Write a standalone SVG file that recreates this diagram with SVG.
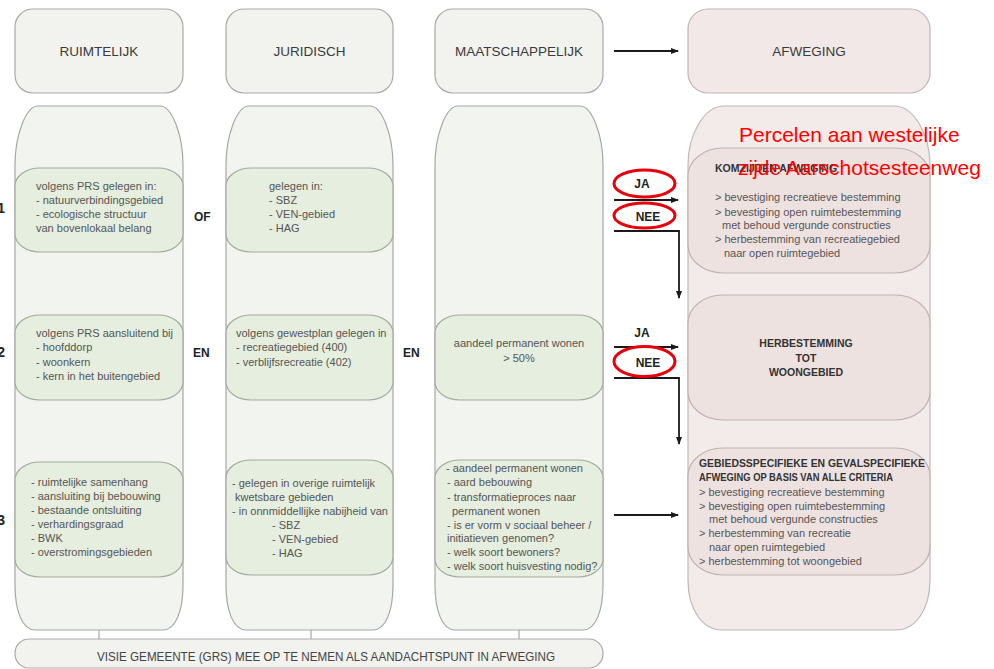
<svg xmlns="http://www.w3.org/2000/svg" width="994" height="669" viewBox="0 0 994 669">
<style>
.hdr{fill:#f2f3ef;stroke:#a9aaa6;stroke-width:1.2}
.hdrp{fill:#f2e8e7;stroke:#bfb5b4;stroke-width:1.2}
.col{fill:#f2f4ef;stroke:#a6a8a3;stroke-width:1.2}
.colp{fill:#f3eaea;stroke:#c2b8b7;stroke-width:1.2}
.gbox{fill:#e5eedf;stroke:#a3aa9e;stroke-width:1.2}
.pbox{fill:#eee2e1;stroke:#bfb3b2;stroke-width:1.2}
text{font-family:"Liberation Sans",Arial,sans-serif}
.t{font-size:11px;fill:#555}
.h{font-size:13.5px;fill:#3a3a3a}
.b{font-size:12px;font-weight:bold;fill:#222}
.pt{font-size:10.5px;font-weight:bold;fill:#333}
.num{font-size:14px;font-weight:bold;fill:#222}
.red{font-size:21px;fill:#ff0000}
.ell{fill:none;stroke:#e8000b;stroke-width:3}
.conn{stroke:#1a1a1a;stroke-width:1.8;fill:none}
.tie{stroke:#a6a8a3;stroke-width:1.2;fill:none}
.ban{font-size:13px;fill:#444}
</style>
<defs>
<marker id="ah" markerWidth="8" markerHeight="8" refX="7" refY="4" orient="auto" markerUnits="userSpaceOnUse">
<path d="M0,1 L8,4 L0,7 Z" fill="#1a1a1a"/>
</marker>
</defs>

<g id="headers">
<g id="h-ruimtelijk"><rect class="hdr" x="15" y="9" width="168" height="84" rx="18"/><text class="h" x="99" y="56" text-anchor="middle">RUIMTELIJK</text></g>
<g id="h-juridisch"><rect class="hdr" x="226" y="9" width="167" height="84" rx="18"/><text class="h" x="309.5" y="56" text-anchor="middle">JURIDISCH</text></g>
<g id="h-maatschappelijk"><rect class="hdr" x="435" y="9" width="168" height="84" rx="18"/><text class="h" x="519" y="56" text-anchor="middle">MAATSCHAPPELIJK</text></g>
<g id="h-afweging"><rect class="hdrp" x="688" y="9" width="242" height="84" rx="20"/><text class="h" x="809" y="56" text-anchor="middle">AFWEGING</text></g>
</g>

<g id="columns">
<path id="col-ruimtelijk" class="col" d="M38,106 H160 C172,106 183,135 183,165 V585 C183,610 176,630 163,630 H35 C22,630 15,610 15,585 V165 C15,135 26,106 38,106 Z"/>
<path id="col-juridisch" class="col" d="M249,106 H370 C382,106 393,135 393,165 V585 C393,610 386,630 373,630 H246 C233,630 226,610 226,585 V165 C226,135 237,106 249,106 Z"/>
<path id="col-maatschappelijk" class="col" d="M458,106 H580 C592,106 603,135 603,165 V585 C603,610 596,630 583,630 H455 C442,630 435,610 435,585 V165 C435,135 446,106 458,106 Z"/>
<path id="col-afweging" class="colp" d="M724,106 H894 C914,106 930,135 930,165 V580 C930,610 915,630 896,630 H722 C703,630 688,610 688,580 V165 C688,135 704,106 724,106 Z"/>
</g>

<g id="row-numbers">
<text class="num" x="5" y="213" text-anchor="end">1</text>
<text class="num" x="5" y="357" text-anchor="end">2</text>
<text class="num" x="5" y="525" text-anchor="end">3</text>
</g>

<g id="r1-ruimtelijk">
<rect class="gbox" x="15" y="168" width="168" height="84" rx="25" ry="18"/>
<text class="t" x="36" y="190">volgens PRS gelegen in:</text>
<text class="t" x="36" y="204">- natuurverbindingsgebied</text>
<text class="t" x="36" y="218">- ecologische structuur</text>
<text class="t" x="36" y="232">van bovenlokaal belang</text>
</g>
<g id="r1-juridisch">
<rect class="gbox" x="226" y="168" width="167" height="84" rx="25" ry="18"/>
<text class="t" x="269" y="190">gelegen in:</text>
<text class="t" x="269" y="204">- SBZ</text>
<text class="t" x="269" y="218">- VEN-gebied</text>
<text class="t" x="269" y="232">- HAG</text>
</g>
<text class="b" x="194" y="221">OF</text>

<g id="r2-ruimtelijk">
<rect class="gbox" x="15" y="315" width="168" height="85" rx="25" ry="18"/>
<text class="t" x="36" y="337">volgens PRS aansluitend bij</text>
<text class="t" x="36" y="351">- hoofddorp</text>
<text class="t" x="36" y="366">- woonkern</text>
<text class="t" x="36" y="380">- kern in het buitengebied</text>
</g>
<g id="r2-juridisch">
<rect class="gbox" x="226" y="315" width="167" height="85" rx="25" ry="18"/>
<text class="t" x="236" y="337">volgens gewestplan gelegen in</text>
<text class="t" x="236" y="351">- recreatiegebied (400)</text>
<text class="t" x="236" y="366">- verblijfsrecreatie (402)</text>
</g>
<g id="r2-maatschappelijk">
<rect class="gbox" x="435" y="315" width="168" height="85" rx="25" ry="18"/>
<text class="t" x="519" y="347" text-anchor="middle">aandeel permanent wonen</text>
<text class="t" x="519" y="362" text-anchor="middle">&gt; 50%</text>
</g>
<text class="b" x="193" y="357">EN</text>
<text class="b" x="403" y="357">EN</text>

<g id="r3-ruimtelijk">
<rect class="gbox" x="15" y="462" width="168" height="115" rx="25" ry="18"/>
<text class="t" x="31" y="486">- ruimtelijke samenhang</text>
<text class="t" x="31" y="500">- aansluiting bij bebouwing</text>
<text class="t" x="31" y="514">- bestaande ontsluiting</text>
<text class="t" x="31" y="528">- verhardingsgraad</text>
<text class="t" x="31" y="542">- BWK</text>
<text class="t" x="31" y="556">- overstromingsgebieden</text>
</g>
<g id="r3-juridisch">
<rect class="gbox" x="226" y="460" width="167" height="115" rx="25" ry="18"/>
<text class="t" x="232" y="487">- gelegen in overige ruimtelijk</text>
<text class="t" x="235" y="501">kwetsbare gebieden</text>
<text class="t" x="232" y="515">- in onnmiddellijke nabijheid van</text>
<text class="t" x="272" y="529">- SBZ</text>
<text class="t" x="272" y="543">- VEN-gebied</text>
<text class="t" x="272" y="557">- HAG</text>
</g>
<g id="r3-maatschappelijk">
<rect class="gbox" x="435" y="460" width="168" height="117" rx="25" ry="18"/>
<text class="t" x="446" y="472">- aandeel permanent wonen</text>
<text class="t" x="447" y="486">- aard bebouwing</text>
<text class="t" x="447" y="501">- transformatieproces naar</text>
<text class="t" x="452" y="515">permanent wonen</text>
<text class="t" x="447" y="529">- is er vorm v sociaal beheer /</text>
<text class="t" x="447" y="542">initiatieven genomen?</text>
<text class="t" x="447" y="556">- welk soort bewoners?</text>
<text class="t" x="447" y="570">- welk soort huisvesting nodig?</text>
</g>

<g id="a1-afweging">
<rect class="pbox" x="688" y="148" width="242" height="125" rx="35" ry="28"/>
<text class="pt" x="715" y="172">KOMZIJDEN AFWEGING</text>
<text class="t" x="715" y="201">&gt; bevestiging recreatieve bestemming</text>
<text class="t" x="715" y="216">&gt; bevestiging open ruimtebestemming</text>
<text class="t" x="722" y="229">met behoud vergunde constructies</text>
<text class="t" x="715" y="243">&gt; herbestemming van recreatiegebied</text>
<text class="t" x="724" y="257">naar open ruimtegebied</text>
</g>
<g id="a2-afweging">
<rect class="pbox" x="688" y="295" width="242" height="125" rx="35" ry="28"/>
<text class="pt" x="806" y="347" text-anchor="middle">HERBESTEMMING</text>
<text class="pt" x="806" y="362" text-anchor="middle">TOT</text>
<text class="pt" x="806" y="376" text-anchor="middle">WOONGEBIED</text>
</g>
<g id="a3-afweging">
<rect class="pbox" x="688" y="448" width="242" height="127" rx="35" ry="28"/>
<text class="pt" x="699" y="467" textLength="226" lengthAdjust="spacingAndGlyphs">GEBIEDSSPECIFIEKE EN GEVALSPECIFIEKE</text>
<text class="pt" x="699" y="481" textLength="194" lengthAdjust="spacingAndGlyphs">AFWEGING OP BASIS VAN ALLE CRITERIA</text>
<text class="t" x="699" y="496">&gt; bevestiging recreatieve bestemming</text>
<text class="t" x="699" y="510">&gt; bevestiging open ruimtebestemming</text>
<text class="t" x="709" y="523">met behoud vergunde constructies</text>
<text class="t" x="699" y="537">&gt; herbestemming van recreatie</text>
<text class="t" x="709" y="551">naar open ruimtegebied</text>
<text class="t" x="699" y="565">&gt; herbestemming tot woongebied</text>
</g>

<g id="banner">
<rect class="hdr" x="15" y="639" width="588" height="29" rx="14"/>
<text class="ban" x="97" y="661" textLength="458" lengthAdjust="spacingAndGlyphs">VISIE GEMEENTE (GRS) MEE OP TE NEMEN ALS AANDACHTSPUNT IN AFWEGING</text>
</g>

<g id="connectors">
<path class="conn" d="M614,51 H678" marker-end="url(#ah)"/>
<path class="conn" d="M614,200 H678" marker-end="url(#ah)"/>
<path class="conn" d="M614,231 H679 V298" marker-end="url(#ah)"/>
<path class="conn" d="M614,347 H678" marker-end="url(#ah)"/>
<path class="conn" d="M614,378 H679 V444" marker-end="url(#ah)"/>
<path class="conn" d="M614,515 H678" marker-end="url(#ah)"/>
<path class="tie" d="M99,630 V639 M311,630 V639 M519,630 V639"/>
</g>

<g id="labels">
<text class="b" x="642" y="188" text-anchor="middle">JA</text>
<text class="b" x="648" y="221" text-anchor="middle">NEE</text>
<text class="b" x="642" y="337" text-anchor="middle">JA</text>
<text class="b" x="648" y="367" text-anchor="middle">NEE</text>
</g>

<g id="annotation">
<ellipse class="ell" cx="644.5" cy="183.5" rx="30.5" ry="13.5"/>
<ellipse class="ell" cx="644.5" cy="215.5" rx="30.5" ry="12.5"/>
<ellipse class="ell" cx="644.5" cy="361.5" rx="30.5" ry="15"/>
<text class="red" x="739" y="142">Percelen aan westelijke</text>
<text class="red" x="738" y="175">zijde Aarschotsesteenweg</text>
</g>
</svg>
